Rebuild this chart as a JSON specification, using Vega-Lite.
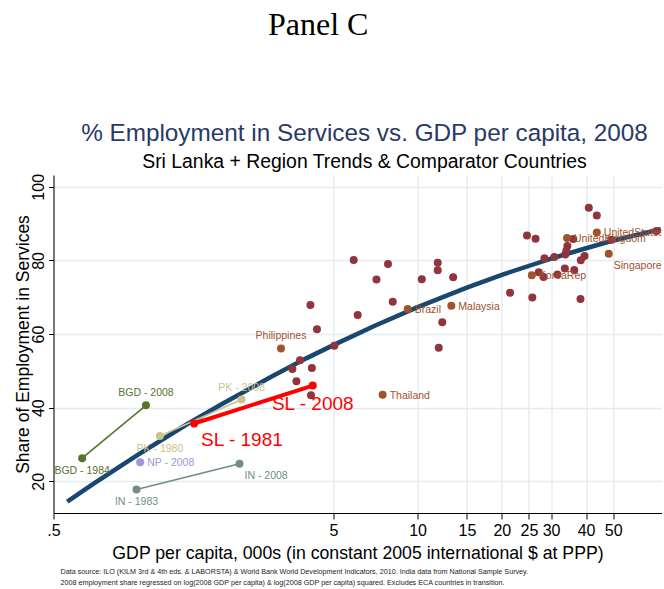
{
  "$schema": "https://vega.github.io/schema/vega-lite/v6.json",
  "padding": {"left": 14.5, "top": 8, "right": 0, "bottom": 0},
  "background": "white",
  "datasets": {
    "pts": [
      {"name": "W1", "gdp": 3.57, "share": 50.5, "grp": "World"},
      {"name": "W2", "gdp": 4.19, "share": 50.8, "grp": "World"},
      {"name": "W3", "gdp": 3.80, "share": 52.9, "grp": "World"},
      {"name": "W4", "gdp": 3.69, "share": 47.2, "grp": "World"},
      {"name": "W5", "gdp": 4.16, "share": 43.4, "grp": "World"},
      {"name": "W6", "gdp": 4.14, "share": 67.9, "grp": "World"},
      {"name": "W7", "gdp": 4.37, "share": 61.3, "grp": "World"},
      {"name": "W8", "gdp": 5.04, "share": 56.8, "grp": "World"},
      {"name": "W9", "gdp": 5.91, "share": 80.1, "grp": "World"},
      {"name": "W10", "gdp": 6.11, "share": 65.2, "grp": "World"},
      {"name": "W11", "gdp": 7.13, "share": 74.8, "grp": "World"},
      {"name": "W12", "gdp": 7.84, "share": 79.0, "grp": "World"},
      {"name": "W13", "gdp": 8.15, "share": 68.8, "grp": "World"},
      {"name": "W14", "gdp": 10.35, "share": 74.9, "grp": "World"},
      {"name": "W15", "gdp": 11.8, "share": 79.4, "grp": "World"},
      {"name": "W16", "gdp": 11.8, "share": 77.3, "grp": "World"},
      {"name": "W17", "gdp": 12.25, "share": 63.2, "grp": "World"},
      {"name": "W18", "gdp": 11.9, "share": 56.3, "grp": "World"},
      {"name": "W19", "gdp": 13.4, "share": 75.4, "grp": "World"},
      {"name": "W20", "gdp": 21.4, "share": 71.2, "grp": "World"},
      {"name": "W21", "gdp": 24.6, "share": 86.8, "grp": "World"},
      {"name": "W22", "gdp": 26.4, "share": 85.9, "grp": "World"},
      {"name": "W23", "gdp": 25.7, "share": 69.9, "grp": "World"},
      {"name": "W24", "gdp": 27.1, "share": 76.8, "grp": "World"},
      {"name": "W25", "gdp": 28.2, "share": 75.5, "grp": "World"},
      {"name": "W26", "gdp": 28.4, "share": 80.6, "grp": "World"},
      {"name": "W27", "gdp": 30.8, "share": 80.9, "grp": "World"},
      {"name": "W28", "gdp": 31.6, "share": 76.2, "grp": "World"},
      {"name": "W29", "gdp": 33.6, "share": 77.8, "grp": "World"},
      {"name": "W30", "gdp": 36.3, "share": 77.4, "grp": "World"},
      {"name": "W31", "gdp": 33.7, "share": 81.6, "grp": "World"},
      {"name": "W32", "gdp": 34.3, "share": 83.9, "grp": "World"},
      {"name": "W33", "gdp": 34.0, "share": 82.6, "grp": "World"},
      {"name": "W34", "gdp": 36.0, "share": 85.8, "grp": "World"},
      {"name": "W35", "gdp": 38.3, "share": 80.05, "grp": "World"},
      {"name": "W36", "gdp": 39.5, "share": 81.2, "grp": "World"},
      {"name": "W37", "gdp": 38.2, "share": 69.5, "grp": "World"},
      {"name": "W38", "gdp": 40.9, "share": 94.3, "grp": "World"},
      {"name": "W39", "gdp": 43.7, "share": 92.2, "grp": "World"},
      {"name": "W40", "gdp": 49.3, "share": 85.6, "grp": "World"},
      {"name": "W41", "gdp": 71.4, "share": 88.0, "grp": "World"},
      {"name": "Philippines", "gdp": 3.25, "share": 56.1, "grp": "Comparator", "lab": "Philippines"},
      {"name": "Thailand", "gdp": 7.5, "share": 43.5, "grp": "Comparator", "lab": "Thailand"},
      {"name": "Brazil", "gdp": 9.22, "share": 66.8, "grp": "Comparator", "lab": "Brazil"},
      {"name": "Malaysia", "gdp": 13.2, "share": 67.7, "grp": "Comparator", "lab": "Malaysia"},
      {"name": "KoreaRep", "gdp": 25.6, "share": 76.0, "grp": "Comparator", "lab": "KoreaRep"},
      {"name": "UnitedKingdom", "gdp": 34.2, "share": 86.1, "grp": "Comparator", "lab": "UnitedKingdom"},
      {"name": "UnitedStates", "gdp": 43.7, "share": 87.6, "grp": "Comparator", "lab": "UnitedStates"},
      {"name": "Singapore", "gdp": 48.2, "share": 81.8, "grp": "Comparator", "lab": "Singapore"},
      {"name": "BGD", "gdp": 0.633, "share": 26.3, "grp": "BGD", "lab": "BGD - 1984"},
      {"name": "BGD", "gdp": 1.07, "share": 40.65, "grp": "BGD", "lab": "BGD - 2008"},
      {"name": "PK", "gdp": 1.20, "share": 32.3, "grp": "PK", "lab": "PK - 1980"},
      {"name": "PK", "gdp": 2.35, "share": 42.2, "grp": "PK", "lab": "PK - 2008"},
      {"name": "NP", "gdp": 1.02, "share": 25.2, "grp": "NP", "lab": "NP - 2008"},
      {"name": "IN", "gdp": 0.99, "share": 17.8, "grp": "IN", "lab": "IN - 1983"},
      {"name": "IN", "gdp": 2.31, "share": 24.8, "grp": "IN", "lab": "IN - 2008"},
      {"name": "SL", "gdp": 1.59, "share": 35.7, "grp": "SL", "lab": "SL - 1981"},
      {"name": "SL", "gdp": 4.22, "share": 46.0, "grp": "SL", "lab": "SL - 2008"}
    ],
    "fit": [
      {"gdp": 0.56, "share": 14.5},
      {"gdp": 0.7, "share": 19.5},
      {"gdp": 1, "share": 27.2},
      {"gdp": 1.5, "share": 35.5},
      {"gdp": 2, "share": 41.0},
      {"gdp": 3, "share": 48.4},
      {"gdp": 4, "share": 53.4},
      {"gdp": 5, "share": 57.0},
      {"gdp": 7, "share": 62.2},
      {"gdp": 10, "share": 67.3},
      {"gdp": 15, "share": 72.6},
      {"gdp": 20, "share": 76.1},
      {"gdp": 30, "share": 80.5},
      {"gdp": 40, "share": 83.3},
      {"gdp": 50, "share": 85.4},
      {"gdp": 74, "share": 88.5}
    ]
  },
  "title": {
    "text": "Panel C",
    "font": "Liberation Serif",
    "fontSize": 32,
    "fontWeight": "normal",
    "color": "#000000",
    "anchor": "middle",
    "offset": 80,
    "dx": -24
  },
  "spacing": 6,
  "vconcat": [
    {
      "width": 608,
      "height": 338,
      "title": {
        "text": "% Employment in Services vs. GDP per capita, 2008",
        "subtitle": "Sri Lanka + Region Trends & Comparator Countries",
        "fontSize": 24.3,
        "fontWeight": "normal",
        "color": "#283a66",
        "subtitleFontSize": 19.4,
        "subtitleColor": "#000000",
        "subtitlePadding": 7,
        "anchor": "middle",
        "frame": "group",
        "offset": 2,
        "dx": 7
      },
      "layer": [
        {
          "data": {"name": "fit"},
          "mark": {"type": "line", "color": "#1a476f", "strokeWidth": 4.5},
          "encoding": {
            "x": {
              "field": "gdp", "type": "quantitative",
              "scale": {"type": "log", "domain": [0.5, 74.4], "nice": false, "zero": false},
              "axis": {
                "values": [0.5, 5, 10, 15, 20, 25, 30, 40, 50],
                "format": "~g",
                "labelExpr": "datum.value == 0.5 ? '.5' : datum.label",
                "title": "GDP per capita, 000s (in constant 2005 international $ at PPP)",
                "titleFontSize": 17.7,
                "tickSize": 6,
                "labelPadding": 3,
                "titlePadding": 6,
                "labelFlush": false,
                "labelOverlap": false,
                "grid": true
              }
            },
            "y": {
              "field": "share", "type": "quantitative",
              "scale": {"domain": [11.4, 103.2], "nice": false, "zero": false},
              "axis": {
                "values": [20, 40, 60, 80, 100],
                "title": "Share of Employment in Services",
                "tickSize": 5,
                "labelAngle": 270,
                "labelAlign": "center",
                "labelBaseline": "alphabetic",
                "labelPadding": 5,
                "titleX": -25,
                "titleBaseline": "alphabetic",
                "grid": true
              }
            }
          }
        },
        {
          "data": {"name": "pts"},
          "transform": [{"filter": "indexof(['BGD','PK','IN'], datum.grp) >= 0"}],
          "mark": {"type": "line", "strokeWidth": 1.6},
          "encoding": {
            "x": {"field": "gdp", "type": "quantitative"},
            "y": {"field": "share", "type": "quantitative"},
            "detail": {"field": "grp"},
            "color": {"field": "grp", "type": "nominal", "legend": null,
              "scale": {"domain": ["World", "Comparator", "BGD", "PK", "NP", "IN", "SL"], "range": ["#90353b", "#a0522d", "#55752f", "#cbc38b", "#a197d6", "#6f8f82", "#ff0000"]}}
          }
        },
        {
          "data": {"name": "pts"},
          "transform": [{"filter": "datum.grp == 'SL'"}],
          "mark": {"type": "line", "strokeWidth": 4},
          "encoding": {
            "x": {"field": "gdp", "type": "quantitative"},
            "y": {"field": "share", "type": "quantitative"},
            "color": {"field": "grp", "type": "nominal", "legend": null}
          }
        },
        {
          "data": {"name": "pts"},
          "mark": {"type": "circle", "size": 64, "opacity": 1},
          "encoding": {
            "x": {"field": "gdp", "type": "quantitative"},
            "y": {"field": "share", "type": "quantitative"},
            "color": {"field": "grp", "type": "nominal", "legend": null}
          }
        },
        {
          "data": {"name": "pts"},
          "transform": [{"filter": "indexof(['BGD - 2008','PK - 2008','Philippines'], datum.lab) >= 0"}],
          "mark": {"type": "text", "fontSize": 10.5, "align": "center", "baseline": "middle", "dy": -12},
          "encoding": {
            "x": {"field": "gdp", "type": "quantitative"},
            "y": {"field": "share", "type": "quantitative"},
            "text": {"field": "lab"},
            "color": {"field": "grp", "type": "nominal", "legend": null}
          }
        },
        {
          "data": {"name": "pts"},
          "transform": [{"filter": "indexof(['BGD - 1984','PK - 1980','IN - 1983'], datum.lab) >= 0"}],
          "mark": {"type": "text", "fontSize": 10.5, "align": "center", "baseline": "middle", "dy": 13},
          "encoding": {
            "x": {"field": "gdp", "type": "quantitative"},
            "y": {"field": "share", "type": "quantitative"},
            "text": {"field": "lab"},
            "color": {"field": "grp", "type": "nominal", "legend": null}
          }
        },
        {
          "data": {"name": "pts"},
          "transform": [{"filter": "indexof(['NP - 2008','Brazil','Malaysia','Thailand','KoreaRep','UnitedKingdom','UnitedStates'], datum.lab) >= 0"}],
          "mark": {"type": "text", "fontSize": 10.5, "align": "left", "baseline": "middle", "dx": 7, "dy": 1, "clip": true},
          "encoding": {
            "x": {"field": "gdp", "type": "quantitative"},
            "y": {"field": "share", "type": "quantitative"},
            "text": {"field": "lab"},
            "color": {"field": "grp", "type": "nominal", "legend": null}
          }
        },
        {
          "data": {"name": "pts"},
          "transform": [{"filter": "indexof(['IN - 2008','Singapore'], datum.lab) >= 0"}],
          "mark": {"type": "text", "fontSize": 10.5, "align": "left", "baseline": "middle", "dx": 5, "dy": 12},
          "encoding": {
            "x": {"field": "gdp", "type": "quantitative"},
            "y": {"field": "share", "type": "quantitative"},
            "text": {"field": "lab"},
            "color": {"field": "grp", "type": "nominal", "legend": null}
          }
        },
        {
          "data": {"name": "pts"},
          "transform": [{"filter": "datum.lab == 'SL - 1981'"}],
          "mark": {"type": "text", "fontSize": 19, "align": "left", "baseline": "middle", "dx": 7, "dy": 16},
          "encoding": {
            "x": {"field": "gdp", "type": "quantitative"},
            "y": {"field": "share", "type": "quantitative"},
            "text": {"field": "lab"},
            "color": {"field": "grp", "type": "nominal", "legend": null}
          }
        },
        {
          "data": {"name": "pts"},
          "transform": [{"filter": "datum.lab == 'SL - 2008'"}],
          "mark": {"type": "text", "fontSize": 19, "align": "center", "baseline": "middle", "dy": 18},
          "encoding": {
            "x": {"field": "gdp", "type": "quantitative"},
            "y": {"field": "share", "type": "quantitative"},
            "text": {"field": "lab"},
            "color": {"field": "grp", "type": "nominal", "legend": null}
          }
        }
      ],
      "resolve": {"scale": {"color": "shared"}}
    },
    {
      "width": 608,
      "height": 1,
      "data": {"values": [{"t": ""}]},
      "mark": {"type": "text"},
      "encoding": {"text": {"field": "t"}},
      "title": {
        "text": [
          "Data source: ILO (KILM 3rd & 4th eds. & LABORSTA) & World Bank World Development Indicators, 2010. India data from National Sample Survey.",
          "2008 employment share regressed on log(2008 GDP per capita) & log(2008 GDP per capita) squared. Excludes ECA countries in transition."
        ],
        "fontSize": 7.2,
        "lineHeight": 11,
        "fontWeight": "normal",
        "color": "#222222",
        "anchor": "start",
        "frame": "group",
        "offset": 0,
        "dx": 7
      }
    }
  ],
  "config": {
    "font": "Liberation Sans",
    "view": {"stroke": null},
    "axis": {
      "domainColor": "#000000",
      "tickColor": "#000000",
      "labelColor": "#000000",
      "titleColor": "#000000",
      "gridColor": "#e4ecf0",
      "gridWidth": 1.5,
      "labelFontSize": 16,
      "titleFontSize": 17.5,
      "titleFontWeight": "normal"
    }
  }
}
